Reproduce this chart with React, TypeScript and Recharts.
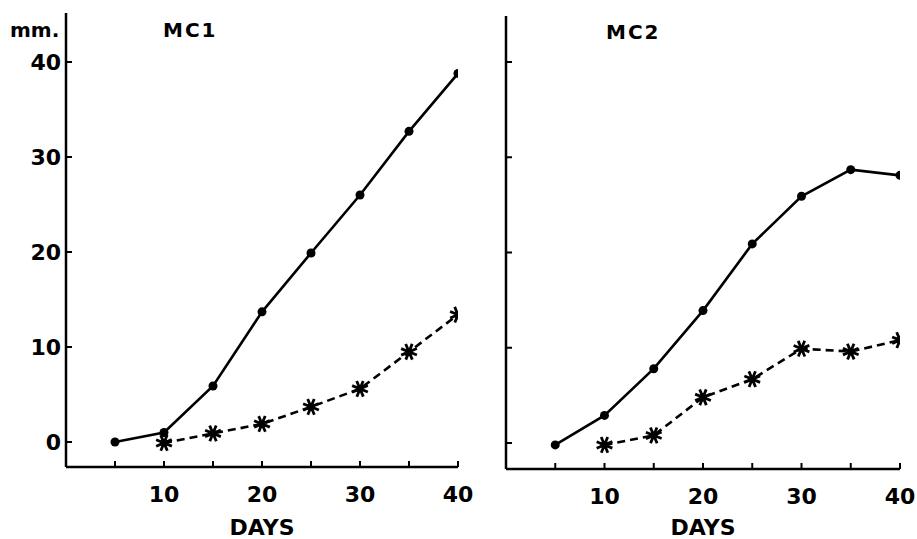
import React from 'react';
import { LineChart, Line, XAxis, YAxis, Label } from 'recharts';

const days = [5, 10, 15, 20, 25, 30, 35, 40];
const mc1Solid = [0, 1.0, 5.9, 13.7, 19.9, 26.0, 32.7, 38.8];
const mc1Dashed: (number | null)[] = [null, -0.1, 0.9, 1.9, 3.7, 5.6, 9.5, 13.4];
const mc2Solid = [-0.2, 2.9, 7.8, 13.9, 20.9, 25.9, 28.7, 28.1];
const mc2Dashed: (number | null)[] = [null, -0.2, 0.8, 4.8, 6.7, 9.9, 9.6, 10.8];
const xTicks = [5, 10, 15, 20, 25, 30, 35, 40];
const xLabeled = [10, 20, 30, 40];
const yTicks = [0, 10, 20, 30, 40];

const FONT = '"DejaVu Sans", sans-serif';

const buildData = (solid: (number | null)[], dashed: (number | null)[]) =>
  days.map((d, i) => ({ day: d, solid: solid[i], dashed: dashed[i] }));

const CircleDot = (props: any) => {
  const { cx, cy, index } = props;
  if (cx == null || cy == null) return <g key={`c${index}`} />;
  return <circle key={`c${index}`} cx={cx} cy={cy} r={4.5} fill="#000" stroke="none" />;
};

const StarDot = (props: any) => {
  const { cx, cy, index, value } = props;
  if (cx == null || cy == null || value == null) return <g key={`s${index}`} />;
  const r = 8.5;
  const lines = [0, 45, 90, 135].map((a) => {
    const rad = ((a + 22) * Math.PI) / 180;
    const dx = Math.cos(rad) * r;
    const dy = Math.sin(rad) * r;
    return (
      <line key={a} x1={cx - dx} y1={cy - dy} x2={cx + dx} y2={cy + dy} stroke="#000" strokeWidth={2.8} />
    );
  });
  return (
    <g key={`s${index}`}>
      {lines}
      <circle cx={cx} cy={cy} r={3.8} fill="#000" />
    </g>
  );
};

const XTick = (props: any) => {
  const { x, y, payload } = props;
  return (
    <g>
      <line x1={x} x2={x} y1={y} y2={y - 6} stroke="#000" strokeWidth={2} />
      {xLabeled.includes(payload.value) ? (
        <text
          x={x}
          y={y + 19}
          dy="0.71em"
          textAnchor="middle"
          fontSize={22}
          fontWeight="bold"
          fontFamily={FONT}
          fill="#000"
        >
          {payload.value}
        </text>
      ) : null}
    </g>
  );
};

const makeYTick = (showLabel: boolean) => (props: any) => {
  const { x, y, payload } = props;
  return (
    <g>
      <line x1={x} x2={x + 6} y1={y} y2={y} stroke="#000" strokeWidth={2} />
      {showLabel ? (
        <text
          x={x - 5}
          y={y}
          dy="0.36em"
          textAnchor="end"
          fontSize={22}
          fontWeight="bold"
          fontFamily={FONT}
          fill="#000"
        >
          {payload.value}
        </text>
      ) : null}
    </g>
  );
};

const YTickLabeled = makeYTick(true);
const YTickPlain = makeYTick(false);

type PanelProps = {
  data: any[];
  width: number;
  margin: any;
  yWidth: number;
  xHeight: number;
  yDomain: [number, number];
  showYLabels: boolean;
  title: string;
  titleX: number;
  titleY: number;
  extra?: React.ReactNode;
};

const Panel = (p: PanelProps) => (
  <LineChart width={p.width} height={539} data={p.data} margin={p.margin}>
    <XAxis
      type="number"
      dataKey="day"
      domain={[0, 40]}
      ticks={xTicks}
      allowDataOverflow
      height={p.xHeight}
      axisLine={{ stroke: '#000', strokeWidth: 2.5 }}
      tickLine={false}
      tickSize={0}
      tickMargin={0}
      tick={<XTick />}
      interval={0}
    >
      <Label
        value="DAYS"
        position="insideBottom"
        offset={4}
        fontSize={22}
        fontWeight="bold"
        fontFamily={FONT}
        fill="#000"
      />
    </XAxis>
    <YAxis
      type="number"
      domain={p.yDomain}
      ticks={yTicks}
      allowDataOverflow
      width={p.yWidth}
      axisLine={{ stroke: '#000', strokeWidth: 2.5 }}
      tickLine={false}
      tickSize={0}
      tickMargin={0}
      tick={p.showYLabels ? <YTickLabeled /> : <YTickPlain />}
      interval={0}
    />
    <Line
      type="linear"
      dataKey="solid"
      stroke="#000"
      strokeWidth={2.6}
      dot={CircleDot}
      activeDot={false}
      isAnimationActive={false}
    />
    <Line
      type="linear"
      dataKey="dashed"
      stroke="#000"
      strokeWidth={2.6}
      strokeDasharray="8 5"
      dot={StarDot}
      activeDot={false}
      isAnimationActive={false}
    />
    <text
      x={p.titleX}
      y={p.titleY}
      fontSize={20}
      fontWeight="bold"
      fontFamily={FONT}
      fill="#000"
      letterSpacing={2}
    >
      {p.title}
    </text>
    {p.extra}
  </LineChart>
);

export default function App() {
  return (
    <div style={{ position: 'absolute', left: 0, top: 0, width: 917, height: 539, background: '#fff' }}>
      <div style={{ position: 'absolute', left: 0, top: 0 }}>
        <Panel
          data={buildData(mc1Solid, mc1Dashed)}
          width={480}
          margin={{ top: 13, right: 22, bottom: 0, left: 0 }}
          yWidth={66}
          xHeight={72}
          yDomain={[-2.63, 45.16]}
          showYLabels
          title="MC1"
          titleX={163}
          titleY={37}
          extra={
            <text x={10} y={37} fontSize={20} fontWeight="bold" fontFamily={FONT} fill="#000">
              mm.
            </text>
          }
        />
      </div>
      <div style={{ position: 'absolute', left: 480, top: 0 }}>
        <Panel
          data={buildData(mc2Solid, mc2Dashed)}
          width={437}
          margin={{ top: 16, right: 17, bottom: 0, left: 0 }}
          yWidth={26}
          xHeight={70}
          yDomain={[-2.73, 44.83]}
          showYLabels={false}
          title="MC2"
          titleX={126}
          titleY={39}
        />
      </div>
    </div>
  );
}
